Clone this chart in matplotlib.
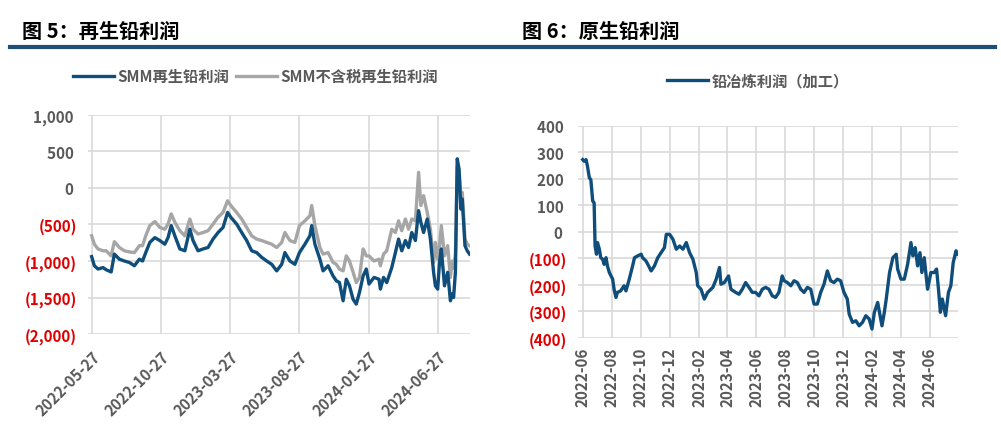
import matplotlib
matplotlib.use("Agg")
import matplotlib.pyplot as plt
import matplotlib.dates as mdates
import matplotlib.ticker as mticker
import pandas as pd

plt.rcParams['font.family'] = ['Noto Sans CJK SC', 'DejaVu Sans']
plt.rcParams['font.weight'] = 'bold'

BLUE = '#0F4D7A'
GRAY = '#A6A6A6'
TXT = '#595959'
RED = '#E00000'
GRID = '#D9D9D9'

# ---- 图5 再生铅利润 ----
left_dates = [
    '2022-05-27', '2022-06-02', '2022-06-10', '2022-06-21', '2022-06-28', '2022-07-09',
    '2022-07-16', '2022-07-27', '2022-08-07', '2022-08-18', '2022-08-29', '2022-09-09',
    '2022-09-16', '2022-09-23', '2022-10-02', '2022-10-13', '2022-10-24', '2022-11-04',
    '2022-11-11', '2022-11-18', '2022-11-26', '2022-12-07', '2022-12-18', '2022-12-29',
    '2023-01-05', '2023-01-16', '2023-01-27', '2023-02-07', '2023-02-18', '2023-03-01',
    '2023-03-12', '2023-03-22', '2023-03-29', '2023-04-11', '2023-04-22', '2023-05-03',
    '2023-05-14', '2023-05-25', '2023-06-05', '2023-06-16', '2023-06-27', '2023-07-08',
    '2023-07-19', '2023-07-26', '2023-08-06', '2023-08-17', '2023-08-27', '2023-09-08',
    '2023-09-19', '2023-09-23', '2023-09-30', '2023-10-11', '2023-10-18', '2023-10-29',
    '2023-11-09', '2023-11-16', '2023-11-23', '2023-12-01', '2023-12-08', '2023-12-15',
    '2023-12-23', '2023-12-30', '2024-01-06', '2024-01-14', '2024-01-21', '2024-01-27',
    '2024-02-07', '2024-02-18', '2024-02-21', '2024-02-28', '2024-03-06', '2024-03-17',
    '2024-03-25', '2024-04-01', '2024-04-08', '2024-04-16', '2024-04-23', '2024-04-30',
    '2024-05-08', '2024-05-15', '2024-05-20', '2024-05-26', '2024-06-03', '2024-06-10',
    '2024-06-17', '2024-06-21', '2024-06-26', '2024-06-30', '2024-07-04', '2024-07-11',
    '2024-07-18', '2024-07-24', '2024-07-28', '2024-07-31', '2024-08-04', '2024-08-08',
    '2024-08-12', '2024-08-16', '2024-08-19', '2024-08-25', '2024-08-30', '2024-09-04',
]
smm_profit = [
    -940, -1065, -1110, -1090, -1120, -1150,
    -905, -975, -1000, -1020, -1065, -975,
    -1000, -885, -745, -680, -720, -770,
    -680, -515, -655, -835, -860, -565,
    -720, -860, -835, -815, -700, -610,
    -540, -335, -400, -495, -610, -720,
    -860, -885, -950, -1000, -1045, -1135,
    -1045, -885, -1000, -1045, -885, -770,
    -655, -515, -770, -975, -1135, -1065,
    -1205, -1270, -1295, -1545, -1250, -1340,
    -1525, -1590, -1430, -1205, -1110, -1315,
    -1225, -1250, -1385, -1225, -1295, -1090,
    -885, -700, -860, -720, -815, -610,
    -720, -310, -470, -610, -425, -700,
    -1155, -1340, -1385, -1020, -835, -1340,
    -1155, -1545, -1450, -1500, -1150, 400,
    260, -290, -150, -790, -860, -905,
]
smm_notax_profit = [
    -655, -770, -835, -860, -860, -930,
    -735, -815, -860, -875, -885, -790,
    -790, -655, -515, -460, -540, -565,
    -495, -355, -470, -585, -655, -425,
    -565, -630, -610, -585, -495, -400,
    -335, -175, -240, -335, -425, -540,
    -655, -700, -720, -745, -770, -815,
    -745, -610, -720, -745, -515, -450,
    -380, -240, -515, -815, -905, -885,
    -1020, -1045, -1110, -1135, -930, -1000,
    -1155, -1295, -1225, -835, -930, -930,
    -1000, -975, -1065, -905, -860, -565,
    -610, -450, -585, -425, -565, -425,
    -450, 215, -240, -105, -335, -565,
    -1020, -745, -975, -790, -515, -930,
    -790, -1225, -1000, -1100, -900, 300,
    215, -105, -60, -700, -770, -790,
]
left_ticks = ['2022-05-27', '2022-10-27', '2023-03-27', '2023-08-27', '2024-01-27', '2024-06-27']

# ---- 图6 原生铅利润 ----
right_dates = [
    '2022-06-01', '2022-06-04', '2022-06-08', '2022-06-11', '2022-06-15', '2022-06-18',
    '2022-06-22', '2022-06-25', '2022-06-27', '2022-06-30', '2022-07-02', '2022-07-06',
    '2022-07-09', '2022-07-13', '2022-07-16', '2022-07-20', '2022-07-23', '2022-07-27',
    '2022-08-03', '2022-08-06', '2022-08-10', '2022-08-13', '2022-08-20', '2022-08-27',
    '2022-08-31', '2022-09-07', '2022-09-14', '2022-09-18', '2022-09-25', '2022-10-02',
    '2022-10-05', '2022-10-12', '2022-10-16', '2022-10-23', '2022-10-30', '2022-11-06',
    '2022-11-13', '2022-11-20', '2022-11-24', '2022-12-01', '2022-12-08', '2022-12-15',
    '2022-12-22', '2022-12-29', '2023-01-05', '2023-01-12', '2023-01-19', '2023-01-26',
    '2023-01-29', '2023-02-05', '2023-02-12', '2023-02-19', '2023-03-02', '2023-03-09',
    '2023-03-16', '2023-03-19', '2023-03-26', '2023-04-04', '2023-04-09', '2023-04-19',
    '2023-04-26', '2023-05-03', '2023-05-10', '2023-05-17', '2023-05-24', '2023-05-31',
    '2023-06-07', '2023-06-14', '2023-06-21', '2023-06-28', '2023-07-05', '2023-07-12',
    '2023-07-19', '2023-07-26', '2023-07-30', '2023-08-06', '2023-08-13', '2023-08-20',
    '2023-08-27', '2023-09-03', '2023-09-10', '2023-09-17', '2023-09-24', '2023-10-01',
    '2023-10-08', '2023-10-15', '2023-10-22', '2023-10-29', '2023-11-05', '2023-11-12',
    '2023-11-19', '2023-11-26', '2023-12-03', '2023-12-10', '2023-12-14', '2023-12-21',
    '2023-12-28', '2024-01-04', '2024-01-11', '2024-01-18', '2024-01-25', '2024-01-31',
    '2024-02-05', '2024-02-12', '2024-02-17', '2024-02-21', '2024-02-26', '2024-03-01',
    '2024-03-08', '2024-03-15', '2024-03-22', '2024-03-25', '2024-04-01', '2024-04-08',
    '2024-04-15', '2024-04-22', '2024-04-26', '2024-05-01', '2024-05-06', '2024-05-11',
    '2024-05-15', '2024-05-20', '2024-05-27', '2024-06-03', '2024-06-10', '2024-06-15',
    '2024-06-19', '2024-06-23', '2024-06-27', '2024-07-04', '2024-07-10', '2024-07-15',
    '2024-07-20', '2024-07-26', '2024-07-29',
]
smelt_profit = [
    273, 267, 273, 248, 204, 198,
    117, 110, -53, -84, -40, -65,
    -97, -103, -122, -97, -128, -153,
    -178, -216, -247, -228, -222, -203,
    -222, -178, -128, -97, -90, -84,
    -97, -109, -122, -147, -128, -97,
    -78, -59, -9, -9, -28, -65,
    -53, -65, -40, -78, -103, -153,
    -203, -216, -253, -228, -209, -178,
    -134, -197, -191, -166, -216, -228,
    -235, -216, -191, -209, -228, -228,
    -241, -216, -209, -216, -241, -247,
    -228, -166, -184, -191, -203, -184,
    -191, -216, -228, -209, -216, -272,
    -272, -228, -197, -147, -184, -191,
    -178, -184, -228, -253, -310, -341,
    -335, -354, -341, -316, -328, -366,
    -303, -266, -316, -354, -303, -253,
    -153, -97, -84, -140, -178, -178,
    -122, -40, -90, -59, -128, -78,
    -153, -97, -216, -153, -153, -140,
    -216, -303, -253, -316, -228, -203,
    -115, -71, -84,
]


def neg_fmt(v, pos):
    if v < 0:
        return f'({abs(v):,.0f})'
    return f'{v:,.0f} '


def style_axes(ax, ymin, ymax, ystep):
    for s in ax.spines.values():
        s.set_visible(False)
    ax.set_ylim(ymin, ymax)
    ax.yaxis.set_major_locator(mticker.MultipleLocator(ystep))
    ax.yaxis.set_major_formatter(mticker.FuncFormatter(neg_fmt))
    ax.grid(True, color=GRID, linewidth=1.2)
    ax.set_axisbelow(True)
    ax.tick_params(length=0, labelsize=11, labelcolor=TXT)
    ax.tick_params(axis='y', pad=8)
    fig.canvas.draw()
    for lab in ax.get_yticklabels():
        if lab.get_text().startswith('('):
            lab.set_color(RED)


fig = plt.figure(figsize=(10.01, 4.31), dpi=100)

# header titles and rule
fig.text(0.022, 0.928, '图 5：再生铅利润', fontsize=14.5, fontweight='bold', color='black', va='center')
fig.text(0.521, 0.928, '图 6：原生铅利润', fontsize=14.5, fontweight='bold', color='black', va='center')
fig.add_artist(plt.Line2D([0.01, 0.994], [0.889, 0.889], color='#1F4E79', linewidth=3))

# left chart
ax1 = fig.add_axes([0.0879, 0.2227, 0.3816, 0.5082])
ld = pd.to_datetime(left_dates)
ax1.plot(ld, smm_profit, color=BLUE, linewidth=2.4, label='SMM再生铅利润', zorder=3)
ax1.plot(ld, smm_notax_profit, color=GRAY, linewidth=2.4, label='SMM不含税再生铅利润', zorder=2)
ax1.set_xlim(pd.Timestamp('2022-05-19'), pd.Timestamp('2024-09-05'))
ax1.set_xticks(pd.to_datetime(left_ticks))
ax1.xaxis.set_major_formatter(mdates.DateFormatter('%Y-%m-%d'))
style_axes(ax1, -2000, 1000, 500)
ax1.tick_params(axis='x', pad=10)
for lab in ax1.get_xticklabels():
    lab.set_rotation(45)
    lab.set_ha('right')
    lab.set_rotation_mode('anchor')
fig.legend(*ax1.get_legend_handles_labels(), loc='center', bbox_to_anchor=(0.255, 0.821),
           ncol=2, frameon=False, fontsize=11, handlelength=2.7, handletextpad=0.2,
           columnspacing=0.45, labelcolor=TXT)

# right chart
ax2 = fig.add_axes([0.5774, 0.2135, 0.3796, 0.4919])
rd = pd.to_datetime(right_dates)
ax2.plot(rd, smelt_profit, color=BLUE, linewidth=2.4, label='铅冶炼利润（加工）')
ax2.set_xlim(pd.Timestamp('2022-05-22'), pd.Timestamp('2024-07-30'))
ax2.xaxis.set_major_locator(mdates.MonthLocator(bymonth=[2, 4, 6, 8, 10, 12]))
ax2.xaxis.set_major_formatter(mdates.DateFormatter('%Y-%m'))
style_axes(ax2, -400, 400, 100)
ax2.tick_params(axis='x', pad=6, labelrotation=90)
fig.legend(*ax2.get_legend_handles_labels(), loc='center', bbox_to_anchor=(0.757, 0.812),
           frameon=False, fontsize=11, handlelength=2.7, handletextpad=0.2, labelcolor=TXT)

fig.savefig('out.png', dpi=100)
